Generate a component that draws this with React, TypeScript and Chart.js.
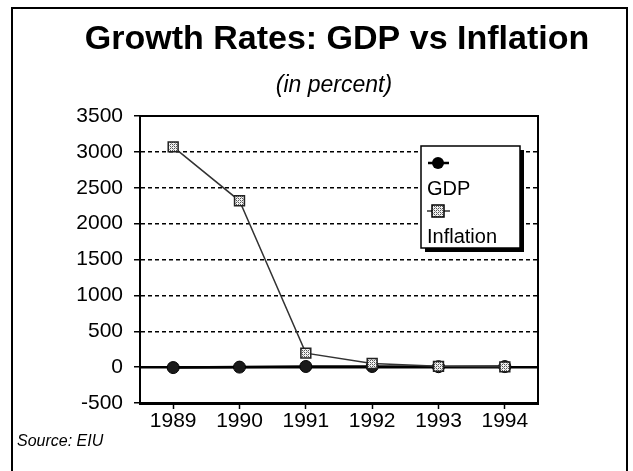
import React, { useEffect, useRef } from "react";
import { Chart, registerables } from "chart.js";

Chart.register(...registerables);

const years = ["1989", "1990", "1991", "1992", "1993", "1994"];
const gdpGrowth = [-6.2, 0.1, 8.9, 8.7, 6.0, 7.4];
const inflation = [3070, 2318, 195, 50, 11, 4];
const yMin = -500;
const yMax = 3500;
const yStep = 500;
const titleText = "Growth Rates: GDP vs Inflation";
const subtitleText = "(in percent)";
const sourceText = "Source: EIU";
const seriesNames = ["GDP", "Inflation"];

const FONT = "Arial, 'Liberation Sans', Helvetica, sans-serif";

function makeHatch(): CanvasPattern | string {
  const c = document.createElement("canvas");
  c.width = 4;
  c.height = 4;
  const g = c.getContext("2d");
  if (!g) return "#bbb";
  g.fillStyle = "#f2f2f2";
  g.fillRect(0, 0, 4, 4);
  g.fillStyle = "#555";
  g.fillRect(0, 0, 1, 1);
  g.fillRect(2, 2, 1, 1);
  g.fillRect(2, 0, 1, 1);
  g.fillRect(0, 2, 1, 1);
  g.fillStyle = "#999";
  g.fillRect(1, 1, 1, 1);
  g.fillRect(3, 3, 1, 1);
  const p = g.createPattern(c, "repeat");
  return p || "#bbb";
}

export default function App() {
  const ref = useRef<HTMLCanvasElement | null>(null);

  useEffect(() => {
    document.body.style.margin = "0";
    const canvas = ref.current;
    if (!canvas) return;
    const hatch = makeHatch();

    const decor = {
      id: "decor",
      beforeDraw(chart: any) {
        const ctx = chart.ctx;
        ctx.save();
        ctx.fillStyle = "#fff";
        ctx.fillRect(0, 0, chart.width, chart.height);
        // frame
        ctx.strokeStyle = "#000";
        ctx.lineWidth = 2;
        ctx.beginPath();
        ctx.moveTo(12, 480);
        ctx.lineTo(12, 8);
        ctx.lineTo(627, 8);
        ctx.lineTo(627, 480);
        ctx.stroke();
        // title
        ctx.fillStyle = "#000";
        ctx.textAlign = "center";
        ctx.textBaseline = "alphabetic";
        ctx.font = `bold 34px ${FONT}`;
        ctx.fillText(titleText, 337, 49);
        ctx.font = `italic 23px ${FONT}`;
        ctx.fillText(subtitleText, 334, 92);
        ctx.textAlign = "left";
        ctx.font = `italic 16px ${FONT}`;
        ctx.fillText(sourceText, 17, 446);
        ctx.restore();
      },
      beforeDatasetsDraw(chart: any) {
        const { ctx, chartArea, scales } = chart;
        const y0 = scales.y.getPixelForValue(0);
        ctx.save();
        ctx.strokeStyle = "#000";
        ctx.lineWidth = 2;
        ctx.beginPath();
        ctx.moveTo(chartArea.left, chartArea.top);
        ctx.lineTo(chartArea.right, chartArea.top);
        ctx.lineTo(chartArea.right, chartArea.bottom);
        ctx.stroke();
        ctx.lineWidth = 2.5;
        ctx.beginPath();
        ctx.moveTo(chartArea.left, y0);
        ctx.lineTo(chartArea.right, y0);
        ctx.stroke();
        ctx.restore();
      },
      afterDraw(chart: any) {
        const ctx = chart.ctx;
        ctx.save();
        const bx = 421, by = 146, bw = 99, bh = 102;
        ctx.fillStyle = "#000";
        ctx.fillRect(bx + 4, by + 4, bw, bh);
        ctx.fillStyle = "#fff";
        ctx.fillRect(bx, by, bw, bh);
        ctx.strokeStyle = "#000";
        ctx.lineWidth = 1.5;
        ctx.strokeRect(bx, by, bw, bh);
        // GDP symbol
        ctx.lineWidth = 2.5;
        ctx.beginPath();
        ctx.moveTo(428, 163);
        ctx.lineTo(449, 163);
        ctx.stroke();
        ctx.fillStyle = "#000";
        ctx.beginPath();
        ctx.arc(438, 163, 6, 0, Math.PI * 2);
        ctx.fill();
        // Inflation symbol
        ctx.lineWidth = 1.5;
        ctx.strokeStyle = "#333";
        ctx.beginPath();
        ctx.moveTo(427, 211);
        ctx.lineTo(450, 211);
        ctx.stroke();
        ctx.fillStyle = hatch as any;
        ctx.fillRect(432, 205, 12, 12);
        ctx.strokeStyle = "#000";
        ctx.strokeRect(432, 205, 12, 12);
        ctx.fillStyle = "#000";
        ctx.font = `20px ${FONT}`;
        ctx.textAlign = "left";
        ctx.textBaseline = "alphabetic";
        ctx.fillText(seriesNames[0], 427, 195);
        ctx.fillText(seriesNames[1], 427, 243);
        ctx.restore();
      },
    };

    const chart = new Chart(canvas, {
      type: "line",
      data: {
        labels: years,
        datasets: [
          {
            label: seriesNames[0],
            data: gdpGrowth,
            borderColor: "#000",
            borderWidth: 2.5,
            backgroundColor: "#111",
            pointStyle: "circle",
            pointRadius: 6,
            pointBorderColor: "#000",
            pointBorderWidth: 1,
            pointBackgroundColor: "#1a1a1a",
            order: 1,
          },
          {
            label: seriesNames[1],
            data: inflation,
            borderColor: "#333",
            borderWidth: 1.5,
            pointStyle: "rect",
            pointRadius: 7,
            pointBorderColor: "#222",
            pointBorderWidth: 1.5,
            pointBackgroundColor: hatch as any,
            order: 0,
          },
        ],
      },
      options: {
        animation: false,
        responsive: false,
        devicePixelRatio: 1,
        layout: { padding: { top: 116, right: 95, bottom: 0, left: 0 } },
        plugins: {
          legend: { display: false },
          title: { display: false },
          tooltip: { enabled: false },
        },
        scales: {
          x: {
            offset: true,
            grid: {
              offset: false,
              drawOnChartArea: false,
              drawTicks: true,
              tickLength: 6,
              tickColor: "#000",
              tickWidth: 1.5,
            },
            border: { display: true, color: "#000", width: 3 },
            ticks: {
              color: "#000",
              font: { family: FONT, size: 21 },
              padding: 0,
              maxRotation: 0,
            },
            afterFit(scale: any) {
              scale.height = 68;
            },
          },
          y: {
            min: yMin,
            max: yMax,
            grid: {
              color: (ctx: any) =>
                ctx.tick && (ctx.tick.value === 0 || ctx.tick.value === yMax) ? "rgba(0,0,0,0)" : "#000",
              lineWidth: 1.5,
              tickLength: 6,
              tickColor: "#000",
              tickWidth: 1.5,
            },
            border: { display: true, color: "#000", width: 2, dash: [4, 3] },
            ticks: {
              stepSize: yStep,
              color: "#000",
              font: { family: FONT, size: 21 },
              padding: 11,
              callback: (v: any) => String(v),
            },
            afterFit(scale: any) {
              scale.width = 140;
            },
          },
        },
      },
      plugins: [decor],
    });

    return () => chart.destroy();
  }, []);

  return <canvas ref={ref} width={633} height={471} style={{ display: "block", width: 633, height: 471 }} />;
}
